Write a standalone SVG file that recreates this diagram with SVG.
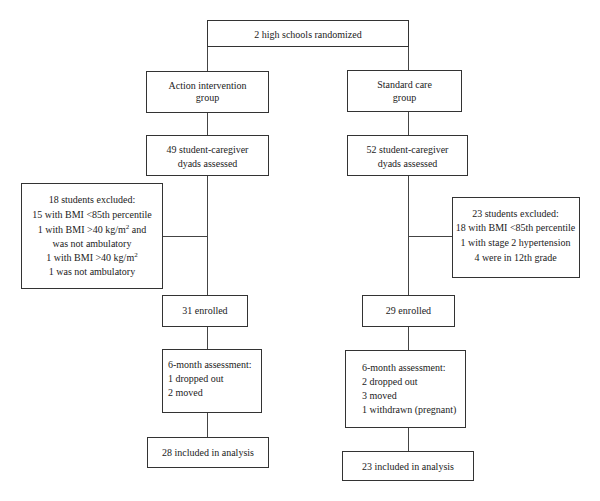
<svg xmlns="http://www.w3.org/2000/svg" width="600" height="501" viewBox="0 0 600 501">
<style>
.b{fill:#fff;stroke:#333;stroke-width:1}
.c{stroke:#444;stroke-width:1;fill:none}
text{font-family:"Liberation Serif","Times New Roman",serif;font-size:10px;fill:#222}
.m{text-anchor:middle}
.sup{font-size:7px}
</style>
<rect width="600" height="501" fill="#fff"/>
<g id="connectors">
<path class="c" d="M207.5 46V71M408.5 46V70M207.5 112V135M207.5 175V295M162 236.5H207.5M207.5 326V349M207.5 412V437M408.5 111V135M408.5 175V295M408.5 236.5H452M408.5 326V350M408.5 427V451"/>
</g>
<g id="n_top"><rect class="b" x="207.5" y="20.5" width="201" height="26"/><text class="m" x="308" y="37.5">2 high schools randomized</text></g>
<g id="n_action"><rect class="b" x="146.5" y="71.5" width="122" height="41"/><text class="m" x="207.5" y="88.5">Action intervention</text><text class="m" x="207.5" y="101">group</text></g>
<g id="n_standard"><rect class="b" x="347.5" y="70.5" width="114" height="41"/><text class="m" x="404.5" y="88">Standard care</text><text class="m" x="404.5" y="100.5">group</text></g>
<g id="n_49"><rect class="b" x="146.5" y="135.5" width="122" height="40"/><text class="m" x="207.5" y="152.5">49 student-caregiver</text><text class="m" x="207.5" y="166.5">dyads assessed</text></g>
<g id="n_52"><rect class="b" x="347.5" y="135.5" width="120" height="40"/><text class="m" x="407.5" y="152.5">52 student-caregiver</text><text class="m" x="407.5" y="166.5">dyads assessed</text></g>
<g id="n_excl_left"><rect class="b" x="21.5" y="183.5" width="141" height="105"/>
<text class="m" x="92" y="202.5">18 students excluded:</text>
<text class="m" x="92" y="217.5">15 with BMI &lt;85th percentile</text>
<text class="m" x="92" y="232.5">1 with BMI &gt;40 kg/m<tspan class="sup" dy="-4">2</tspan><tspan dy="4"> and</tspan></text>
<text class="m" x="92" y="246.5">was not ambulatory</text>
<text class="m" x="92" y="260.5">1 with BMI &gt;40 kg/m<tspan class="sup" dy="-4">2</tspan></text>
<text class="m" x="92" y="274.5">1 was not ambulatory</text></g>
<g id="n_excl_right"><rect class="b" x="452.5" y="197.5" width="127" height="80"/>
<text class="m" x="515.5" y="216.5">23 students excluded:</text>
<text class="m" x="515.5" y="230.5">18 with BMI &lt;85th percentile</text>
<text class="m" x="515.5" y="245.5">1 with stage 2 hypertension</text>
<text class="m" x="515.5" y="260.5">4 were in 12th grade</text></g>
<g id="n_31"><rect class="b" x="162.5" y="295.5" width="85" height="31"/><text class="m" x="205" y="313.5">31 enrolled</text></g>
<g id="n_29"><rect class="b" x="362.5" y="295.5" width="92" height="31"/><text class="m" x="408.5" y="313.5">29 enrolled</text></g>
<g id="n_6mo_left"><rect class="b" x="162.5" y="349.5" width="99" height="63"/>
<text x="168" y="367.5">6-month assessment:</text><text x="168" y="382">1 dropped out</text><text x="168" y="395.5">2 moved</text></g>
<g id="n_6mo_right"><rect class="b" x="345.5" y="350.5" width="120" height="77"/>
<text x="362" y="370.5">6-month assessment:</text><text x="362" y="384.5">2 dropped out</text><text x="362" y="398.5">3 moved</text><text x="362" y="412.5">1 withdrawn (pregnant)</text></g>
<g id="n_28"><rect class="b" x="147.5" y="437.5" width="121" height="30"/><text class="m" x="208" y="456">28 included in analysis</text></g>
<g id="n_23"><rect class="b" x="342.5" y="451.5" width="131" height="29"/><text class="m" x="408" y="469.5">23 included in analysis</text></g>
</svg>
